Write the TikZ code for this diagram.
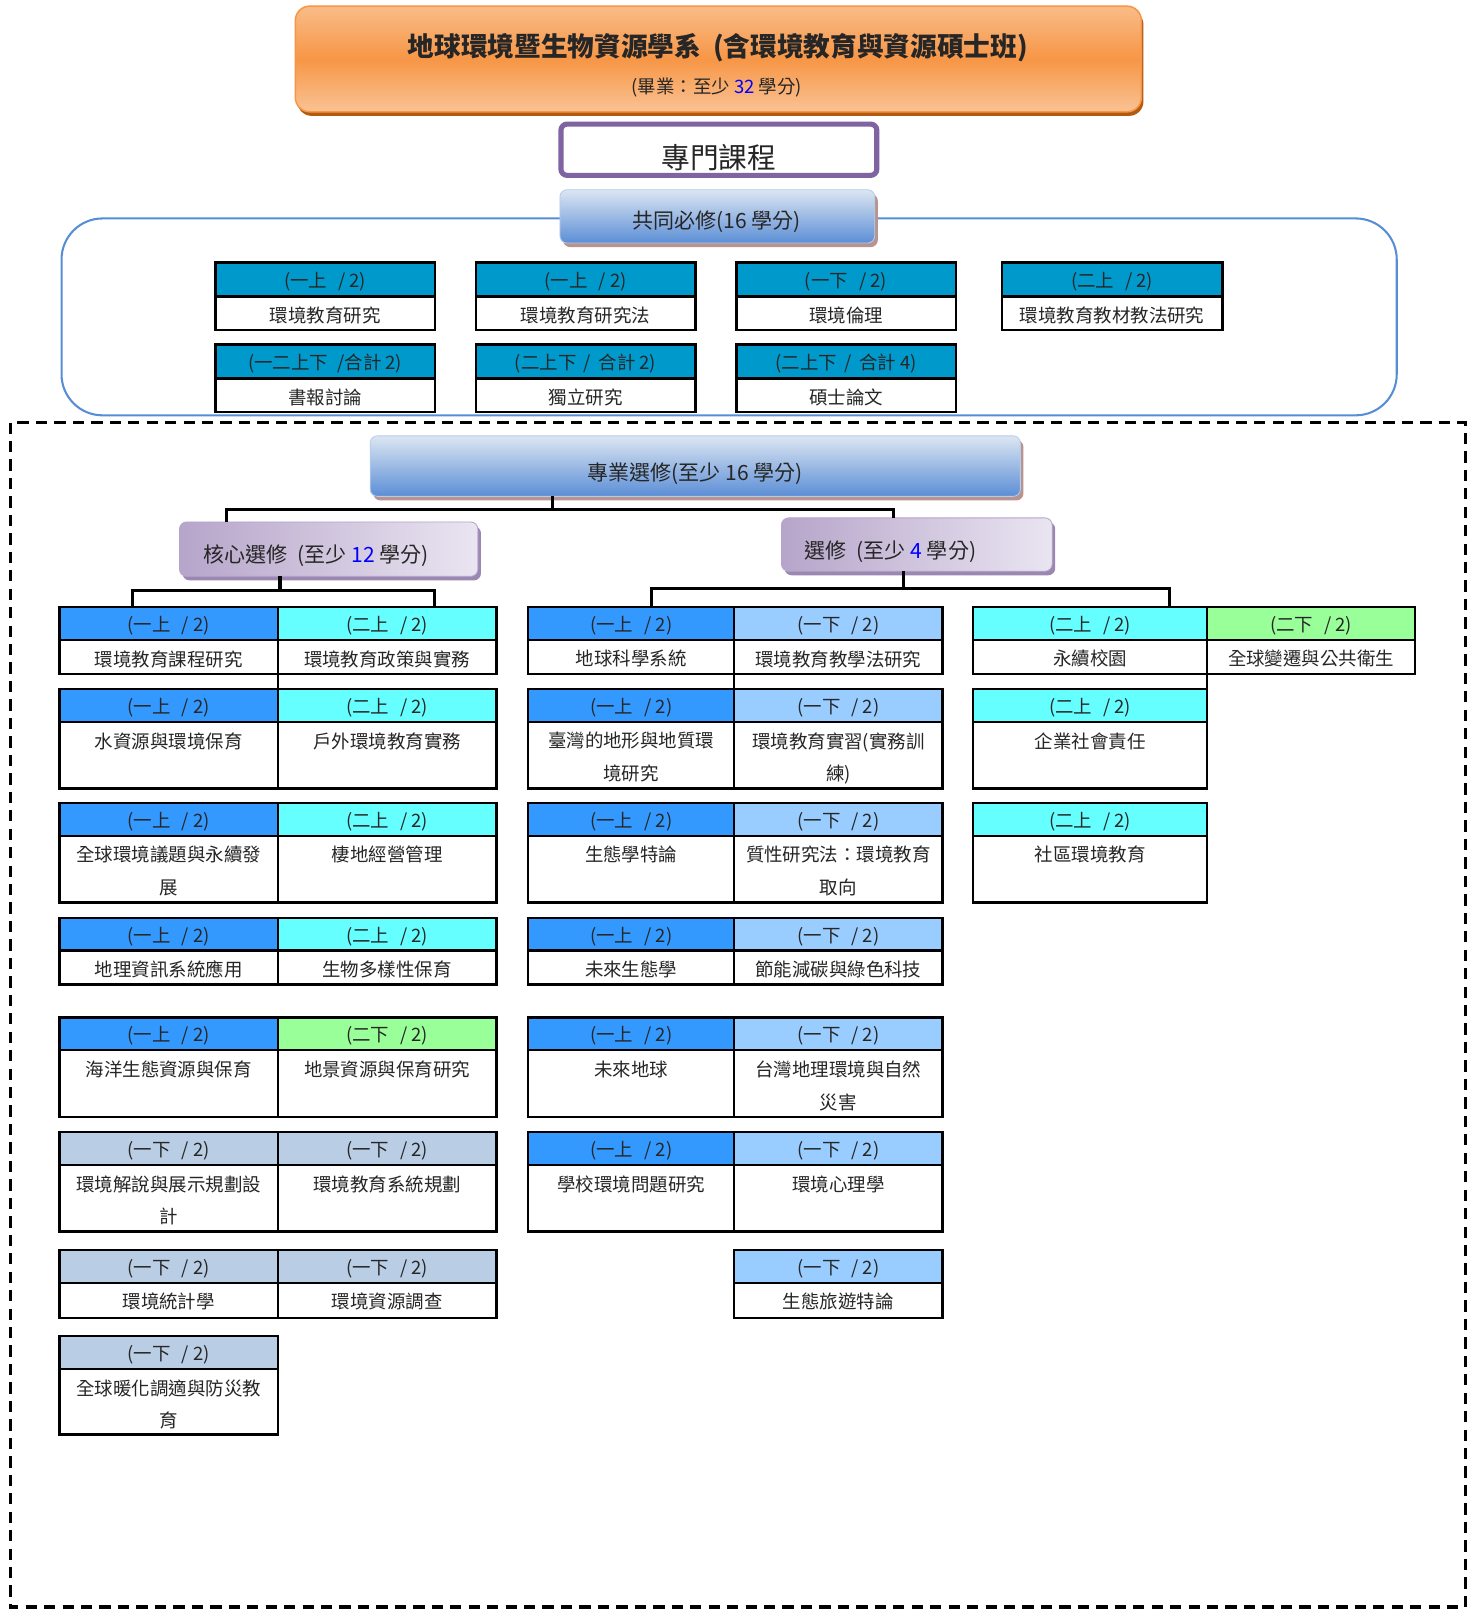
\documentclass[tikz,border=0pt]{standalone}
\usepackage{fontspec}
\setmainfont{Noto Sans CJK TC}
\usetikzlibrary{shadows,calc}
\definecolor{cmn}{HTML}{0099CC}
\definecolor{blu}{HTML}{3399FF}
\definecolor{cya}{HTML}{66FFFF}
\definecolor{grn}{HTML}{99FF99}
\definecolor{lbl}{HTML}{99CCFF}
\definecolor{sbl}{HTML}{B9CDE5}
\definecolor{frameblue}{HTML}{558ED5}
\definecolor{purp}{HTML}{8064A2}
\definecolor{orTop}{HTML}{F9BC88}
\definecolor{orMid}{HTML}{F79646}
\definecolor{orBot}{HTML}{FAC294}
\definecolor{orShadow}{HTML}{B45A0F}
\definecolor{orLine}{HTML}{F79646}
\definecolor{bhTop}{HTML}{DCE6F2}
\definecolor{bhBot}{HTML}{5B8ED6}
\definecolor{bhShadow}{HTML}{B8938F}
\definecolor{ppLeft}{HTML}{B6A5CA}
\definecolor{ppRight}{HTML}{EAE5F1}
\definecolor{ppShadow}{HTML}{9A88B2}
\definecolor{txt}{HTML}{262626}
\newcommand\crs[9]{%
  \node[hdr, fill=#7, minimum width={(#3-#2)*1pt}, minimum height={#5*1pt}] (#1-h) at ({(#2+#3)/2},{#4+#5/2}) {};
  \node[hdrtxt] (#1-ht) at ([yshift=-2pt]#1-h.center) {#8};
  \node[bodybox, minimum width={(#3-#2)*1pt}, minimum height={#6*1pt}, anchor=north] (#1-b) at (#1-h.south) {};
  \node[bodytxt, anchor=north] (#1-t) at ([yshift=-10pt]#1-b.north) {#9};
}
\newcommand\gp{\hspace{0.6em}}
\begin{document}
\begin{tikzpicture}[x=1pt,y=-1pt,
  hdr/.style={draw=black, line width=2.4pt, inner sep=0pt, outer sep=0pt},
  hdrtxt/.style={inner sep=0pt, text=txt, font=\fontsize{18}{22}\selectfont},
  bodybox/.style={draw=black, line width=2.4pt, fill=white, inner sep=0pt, outer sep=0pt},
  bodytxt/.style={inner sep=0pt, align=center, text=txt, font=\fontsize{18}{32}\selectfont},
  conn/.style={line width=3pt, black},
  link/.style={line width=2.4pt, black},
  bluehead/.style={draw=bhTop!70!bhBot, line width=0.8pt, rounded corners=7pt, top color=bhTop, bottom color=bhBot, inner sep=0pt, outer sep=0pt,
     drop shadow={shadow xshift=3pt, shadow yshift=-4pt, fill=bhShadow, opacity=1}},
  purphead/.style={draw=ppLeft, line width=0.8pt, rounded corners=7pt, left color=ppLeft, right color=ppRight, inner sep=0pt, outer sep=0pt,
     drop shadow={shadow xshift=3pt, shadow yshift=-4pt, fill=ppShadow, opacity=1}},
  lbl/.style={inner sep=0pt, text=txt}
]
\useasboundingbox (0,0) rectangle (1441,1569);
\fill[white] (0,0) rectangle (1441,1569);

% title
\node[draw=orLine, line width=1.5pt, rounded corners=14pt, minimum width=825pt, minimum height=103pt,
  top color=orTop, bottom color=orBot, middle color=orMid, inner sep=0pt,
  drop shadow={shadow xshift=2pt, shadow yshift=-4pt, fill=orShadow, opacity=1}] (title) at (700.5,57.5) {};
\node[lbl, font=\fontsize{26}{30}\selectfont\bfseries] (ttl) at (700,46) {地球環境暨生物資源學系\hspace{0.45em}(含環境教育與資源碩士班)};
\node[lbl, font=\fontsize{18}{20}\selectfont] (sub) at (699,85) {(畢業：至少 \textcolor{blue}{32} 學分)};

% 專門課程
\node[draw=purp, line width=5pt, rounded corners=6pt, fill=white, minimum width=308pt, minimum height=50pt, inner sep=0pt] (zm) at (701,146) {};
\node[lbl, font=\fontsize{28}{32}\selectfont] (zmt) at (701,154) {專門課程};

% common required frame
\draw[frameblue, line width=2pt, rounded corners=40pt] (60,213) rectangle (1362,405);
\node[bluehead, minimum width=307pt, minimum height=52pt] (req) at (699.5,211) {};
\node[lbl, font=\fontsize{20.5}{24}\selectfont] (reqt) at (699,216) {共同必修(16 學分)};

\crs{m1}{210}{424}{256}{33}{33}{cmn}{(一上\gp/ 2)}{環境教育研究}
\crs{m2}{464}{678}{256}{33}{33}{cmn}{(一上\gp/ 2)}{環境教育研究法}
\crs{m3}{718}{932}{256}{33}{33}{cmn}{(一下\gp/ 2)}{環境倫理}
\crs{m4}{977}{1192}{256}{33}{33}{cmn}{(二上\gp/ 2)}{環境教育教材教法研究}
\crs{m5}{210}{424}{336}{33}{33}{cmn}{(一二上下\hspace{0.5em}/合計 2)}{書報討論}
\crs{m6}{464}{678}{336}{33}{33}{cmn}{(二上下\hspace{0.4em}/\hspace{0.4em}合計 2)}{獨立研究}
\crs{m7}{718}{932}{336}{33}{33}{cmn}{(二上下\hspace{0.4em}/\hspace{0.4em}合計 4)}{碩士論文}

% dashed frame
\draw[black, line width=3pt, dash pattern=on 11pt off 7pt] (10,412) rectangle (1429,1567);

% elective headers
\node[bluehead, minimum width=634pt, minimum height=59pt] (pro) at (678,454.5) {};
\node[lbl, font=\fontsize{20.5}{24}\selectfont] (prot) at (678,462) {專業選修(至少 16 學分)};
\node[purphead, minimum width=291pt, minimum height=53pt] (core) at (320.5,535.5) {};
\node[lbl, anchor=west, font=\fontsize{20.5}{24}\selectfont] (coret) at (198,542) {核心選修\hspace{0.5em}(至少 \textcolor{blue}{12} 學分)};
\node[purphead, minimum width=264pt, minimum height=52pt] (elec) at (894,531) {};
\node[lbl, anchor=west, font=\fontsize{20.5}{24}\selectfont] (elect) at (784,538) {選修\hspace{0.5em}(至少 \textcolor{blue}{4} 學分)};

% core courses
\crs{c1L}{58}{271}{592}{32}{33}{blu}{(一上\gp/ 2)}{環境教育課程研究}
\crs{c1R}{271}{484}{592}{32}{33}{cya}{(二上\gp/ 2)}{環境教育政策與實務}
\crs{c2L}{58}{271}{672}{32}{65}{blu}{(一上\gp/ 2)}{水資源與環境保育}
\crs{c2R}{271}{484}{672}{32}{65}{cya}{(二上\gp/ 2)}{戶外環境教育實務}
\crs{c3L}{58}{271}{783}{32}{65}{blu}{(一上\gp/ 2)}{全球環境議題與永續發\\展}
\crs{c3R}{271}{484}{783}{32}{65}{cya}{(二上\gp/ 2)}{棲地經營管理}
\crs{c4L}{58}{271}{895}{32}{33}{blu}{(一上\gp/ 2)}{地理資訊系統應用}
\crs{c4R}{271}{484}{895}{32}{33}{cya}{(二上\gp/ 2)}{生物多樣性保育}
\crs{c5L}{58}{271}{992}{32}{65}{blu}{(一上\gp/ 2)}{海洋生態資源與保育}
\crs{c5R}{271}{484}{992}{32}{65}{grn}{(二下\gp/ 2)}{地景資源與保育研究}
\crs{c6L}{58}{271}{1104}{32}{65}{sbl}{(一下\gp/ 2)}{環境解說與展示規劃設\\計}
\crs{c6R}{271}{484}{1104}{32}{65}{sbl}{(一下\gp/ 2)}{環境教育系統規劃}
\crs{c7L}{58}{271}{1219}{32}{34}{sbl}{(一下\gp/ 2)}{環境統計學}
\crs{c7R}{271}{484}{1219}{32}{34}{sbl}{(一下\gp/ 2)}{環境資源調查}
\crs{c8L}{58}{271}{1303}{32}{64}{sbl}{(一下\gp/ 2)}{全球暖化調適與防災教\\育}

% electives
\crs{e1A}{515}{716}{592}{32}{33}{blu}{(一上\gp/ 2)}{地球科學系統}
\crs{e1B}{716}{919}{592}{32}{33}{lbl}{(一下\gp/ 2)}{環境教育教學法研究}
\crs{e2A}{515}{716}{672}{32}{65}{blu}{(一上\gp/ 2)}{臺灣的地形與地質環\\境研究}
\crs{e2B}{716}{919}{672}{32}{65}{lbl}{(一下\gp/ 2)}{環境教育實習(實務訓\\練)}
\crs{e3A}{515}{716}{783}{32}{65}{blu}{(一上\gp/ 2)}{生態學特論}
\crs{e3B}{716}{919}{783}{32}{65}{lbl}{(一下\gp/ 2)}{質性研究法：環境教育\\取向}
\crs{e4A}{515}{716}{895}{32}{33}{blu}{(一上\gp/ 2)}{未來生態學}
\crs{e4B}{716}{919}{895}{32}{33}{lbl}{(一下\gp/ 2)}{節能減碳與綠色科技}
\crs{e5A}{515}{716}{992}{32}{65}{blu}{(一上\gp/ 2)}{未來地球}
\crs{e5B}{716}{919}{992}{32}{65}{lbl}{(一下\gp/ 2)}{台灣地理環境與自然\\災害}
\crs{e6A}{515}{716}{1104}{32}{65}{blu}{(一上\gp/ 2)}{學校環境問題研究}
\crs{e6B}{716}{919}{1104}{32}{65}{lbl}{(一下\gp/ 2)}{環境心理學}
\crs{e7B}{716}{919}{1219}{32}{34}{lbl}{(一下\gp/ 2)}{生態旅遊特論}
\crs{e1C}{949}{1177}{592}{32}{33}{cya}{(二上\gp/ 2)}{永續校園}
\crs{e1D}{1177}{1380}{592}{32}{33}{grn}{(二下\gp/ 2)}{全球變遷與公共衛生}
\crs{e2C}{949}{1177}{672}{32}{65}{cya}{(二上\gp/ 2)}{企業社會責任}
\crs{e3C}{949}{1177}{783}{32}{65}{cya}{(二上\gp/ 2)}{社區環境教育}

% connectors
\draw[conn] ([xshift=-139pt]pro.south) -- ++(0,13) coordinate (pbus);
\draw[conn] ([xshift=-99.5pt]core.north) |- (pbus) -| ([xshift=-23pt]elec.north);
\draw[conn] ([xshift=-47.5pt]core.south) -- ++(0,14) coordinate (cbus);
\draw[conn] ([xshift=-35.5pt]c1L-h.north) |- (cbus) -| ([xshift=46.5pt]c1R-h.north);
\draw[conn] ([xshift=-13pt]elec.south) -- ++(0,17) coordinate (ebus);
\draw[conn] ([xshift=19.5pt]e1A-h.north) |- (ebus) -| ([xshift=77pt]e1C-h.north);
\draw[link] (c1L-b.south east) -- (c2L-h.north east);
\draw[link] (e1A-b.south east) -- (e2A-h.north east);
\draw[link] (e1C-b.south east) -- (e2C-h.north east);
\end{tikzpicture}
\end{document}
